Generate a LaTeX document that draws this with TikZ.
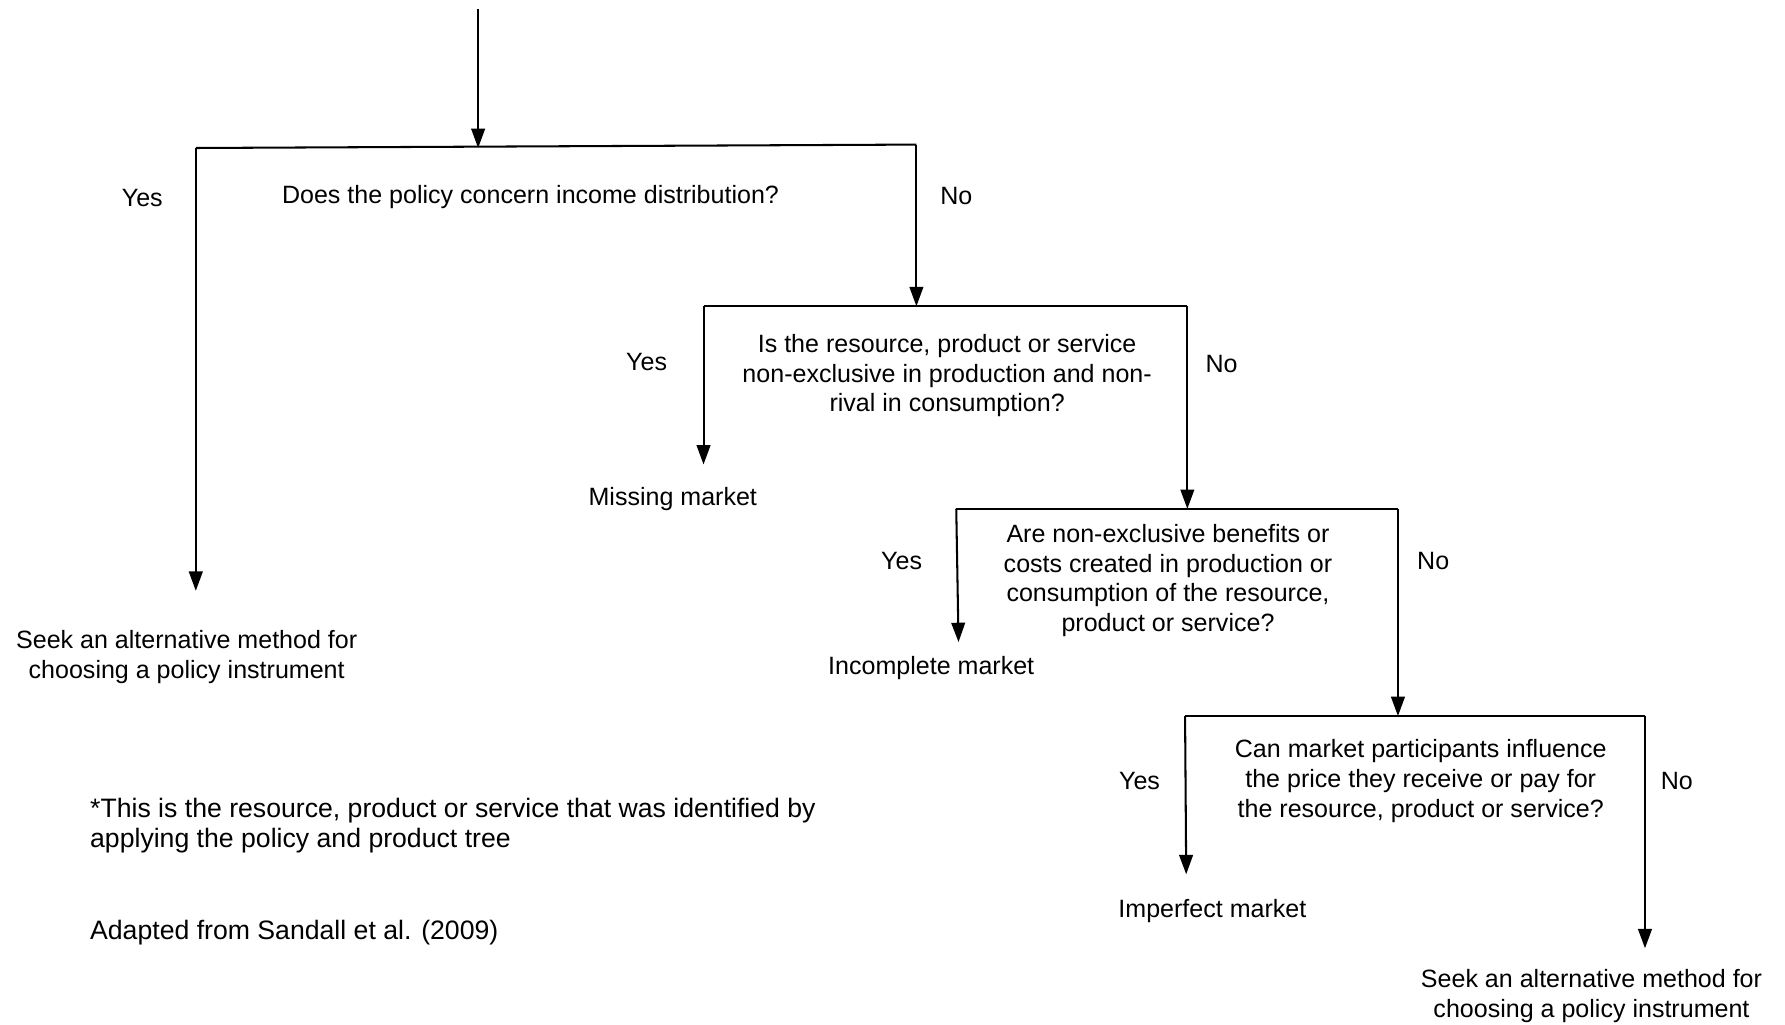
\documentclass[tikz,border=0pt]{standalone}
\usepackage{fontspec}
\setmainfont{Liberation Sans}
\usetikzlibrary{arrows.meta}
\begin{document}
\begin{tikzpicture}[x=1pt,y=-1pt,
  txt/.style={font=\fontsize{22}{26}\selectfont, inner sep=0pt, align=center},
  notetxt/.style={font=\fontsize{23.4}{26}\selectfont, inner sep=0pt, anchor=west, align=left},
  link/.style={line width=1.8pt},
  flow/.style={line width=1.8pt, -{Triangle[width=12pt,length=17pt]}},
]
\useasboundingbox (0,0) rectangle (1568,900);

% branch points of the decision tree
\coordinate (top) at (420,8);
\coordinate (b1) at (420,130);
\coordinate (b1L) at (172,130);
\coordinate (b1R) at (805,127);
\coordinate (t1L) at (172,519);
\coordinate (b2) at (805,269);
\coordinate (b2L) at (618,269);
\coordinate (b2R) at (1043,269);
\coordinate (t2L) at (618,408);
\coordinate (b3) at (1043,447);
\coordinate (b3L) at (840,447);
\coordinate (b3R) at (1228,447);
\coordinate (t3L) at (842,564);
\coordinate (b4) at (1228,629);
\coordinate (b4L) at (1041,629);
\coordinate (b4R) at (1445,629);
\coordinate (t4L) at (1042,768);
\coordinate (t4R) at (1445,833);

% connectors
\draw[flow] (top) -- (b1);
\draw[link] (b1L) -- (b1R);
\draw[flow] (b1L) -- (t1L);
\draw[flow] (b1R) -- (b2);
\draw[link] (b2L) -- (b2R);
\draw[flow] (b2L) -- (t2L);
\draw[flow] (b2R) -- (b3);
\draw[link] (b3L) -- (b3R);
\draw[flow] (b3L) -- (t3L);
\draw[flow] (b3R) -- (b4);
\draw[link] (b4L) -- (b4R);
\draw[flow] (b4L) -- (t4L);
\draw[flow] (b4R) -- (t4R);

% questions, answers and outcomes
\node[txt] (q1) at (466,173) {Does the policy concern income distribution?};
\node[txt] (y1) at (125,174) {Yes};
\node[txt] (n1) at (840,172) {No};
\node[txt] (o1) at (164,577) {Seek an alternative method for\\choosing a policy instrument};

\node[txt] (q2) at (832,330) {Is the resource, product or service\\non-exclusive in production and non-\\rival in consumption?};
\node[txt] (y2) at (568,318) {Yes};
\node[txt] (n2) at (1073,320) {No};
\node[txt] (o2) at (591,438) {Missing market};

\node[txt] (q3) at (1026,510) {Are non-exclusive benefits or\\costs created in production or\\consumption of the resource,\\product or service?};
\node[txt] (y3) at (792,493) {Yes};
\node[txt] (n3) at (1259,493) {No};
\node[txt] (o3) at (818,587) {Incomplete market};

\node[txt] (q4) at (1248,686) {Can market participants influence\\the price they receive or pay for\\the resource, product or service?};
\node[txt] (y4) at (1001,686) {Yes};
\node[txt] (n4) at (1473,686) {No};
\node[txt] (o4) at (1065,800) {Imperfect market};
\node[txt] (o5) at (1398,875) {Seek an alternative method for\\choosing a policy instrument};

% notes
\node[notetxt] (note) at (79,725) {*This is the resource, product or service that was identified by\\applying the policy and product tree};
\node[notetxt] (src) at (79,819) {Adapted from Sandall et al. (2009)};
\end{tikzpicture}
\end{document}
